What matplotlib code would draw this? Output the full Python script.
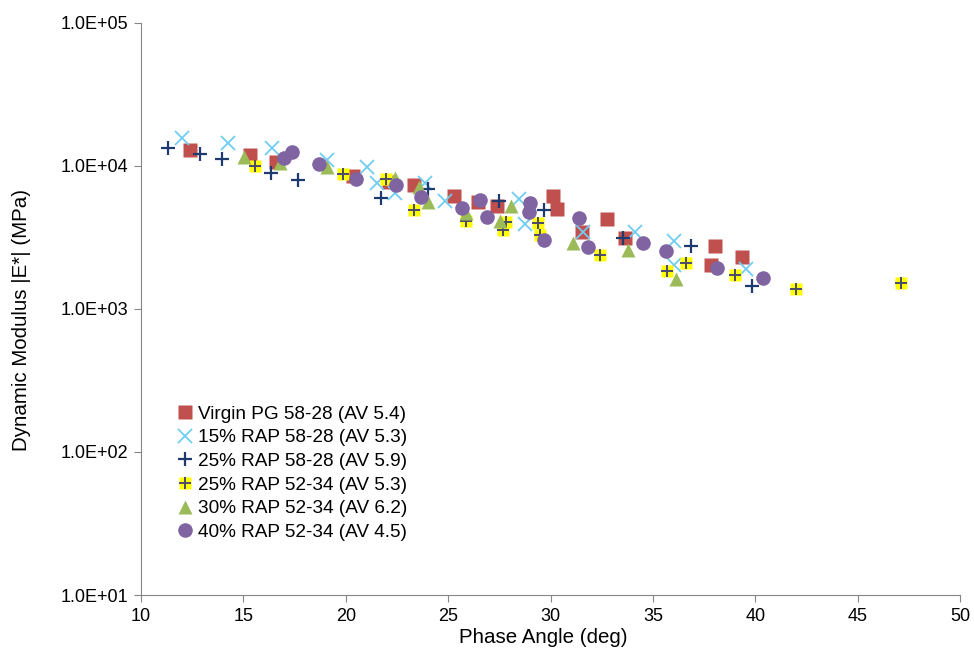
import matplotlib
matplotlib.use("Agg")
import matplotlib.pyplot as plt
from matplotlib.ticker import FixedLocator, FuncFormatter, NullLocator
from matplotlib.legend_handler import HandlerTuple
import numpy as np

plt.rcParams['font.family'] = ['Liberation Sans', 'DejaVu Sans']

# Virgin PG 58-28 (AV 5.4)
virgin_x = [12.39, 15.32, 16.59, 20.34, 22.10, 23.32, 25.27, 26.44, 27.40, 30.10,
            30.34, 31.56, 32.76, 33.66, 38.05, 37.85, 39.37]
virgin_y = [12940, 11940, 10670, 8510, 7730, 7360, 6170, 5600, 5250, 6170,
            5000, 3460, 4260, 3140, 2760, 2030, 2310]

# 15% RAP 58-28 (AV 5.3)
rap15_x = [12.0, 14.24, 16.39, 19.07, 21.02, 21.51, 22.39, 23.85, 24.83, 28.44,
           28.73, 31.61, 34.15, 36.05, 36.05, 39.56]
rap15_y = [15700, 14480, 13360, 11020, 9840, 7610, 6480, 7610, 5690, 5880,
           3930, 3460, 3460, 2990, 2030, 1900]

# 25% RAP 58-28 (AV 5.9)
rap25a_x = [11.32, 12.88, 13.95, 16.34, 17.66, 21.71, 24.0, 27.46, 29.66, 33.56, 36.88, 39.85]
rap25a_y = [13360, 12130, 11190, 8930, 7980, 5970, 6910, 5690, 4920, 3140, 2760, 1450]

# 25% RAP 52-34 (AV 5.3)
rap25b_x = [15.56, 19.85, 21.95, 23.32, 25.85, 27.66, 27.85, 29.41, 29.51, 32.44,
            35.71, 36.63, 39.02, 42.0, 47.12]
rap25b_y = [10000, 8790, 8110, 4920, 4120, 3570, 4060, 3990, 3290, 2390,
            1840, 2100, 1730, 1380, 1520]

# 30% RAP 52-34 (AV 6.2)
rap30_x = [15.02, 16.78, 19.07, 22.39, 23.56, 24.0, 25.85, 27.51, 28.05, 31.12, 33.80, 36.15]
rap30_y = [11560, 10500, 9840, 8250, 7130, 5600, 4690, 4120, 5250, 2890, 2590, 1620]

# 40% RAP 52-34 (AV 4.5)
rap40_x = [16.98, 17.37, 18.68, 20.49, 22.44, 23.66, 25.66, 26.54, 26.88, 29.02,
           28.93, 29.66, 31.37, 31.85, 34.54, 35.66, 38.15, 40.39]
rap40_y = [11370, 12530, 10330, 8110, 7360, 6070, 5090, 5780, 4400, 5510,
           4770, 3040, 4330, 2710, 2890, 2540, 1940, 1650]

labels = ["Virgin PG 58-28 (AV 5.4)", "15% RAP 58-28 (AV 5.3)", "25% RAP 58-28 (AV 5.9)",
          "25% RAP 52-34 (AV 5.3)", "30% RAP 52-34 (AV 6.2)", "40% RAP 52-34 (AV 4.5)"]

fig = plt.figure(figsize=(9.74, 6.55), dpi=100)
ax = fig.add_axes([0.1448, 0.0916, 0.8408, 0.8733])

h1, = ax.plot(virgin_x, virgin_y, ls='none', marker='s', ms=10, color='#C0504D', mec='none')
h2, = ax.plot(rap15_x, rap15_y, ls='none', marker='x', ms=9.5, mew=1.3, color='#6FCDF2')
h3, = ax.plot(rap25a_x, rap25a_y, ls='none', marker='+', ms=9.5, mew=1.6, color='#1F3A6E')
h4a, = ax.plot(rap25b_x, rap25b_y, ls='none', marker='s', ms=9, color='#FFFF00', mec='none')
h4b, = ax.plot(rap25b_x, rap25b_y, ls='none', marker='+', ms=8, mew=1.4, color='#4B4A6B')
h5, = ax.plot(rap30_x, rap30_y, ls='none', marker='^', ms=10, color='#9BBB59', mec='none')
h6, = ax.plot(rap40_x, rap40_y, ls='none', marker='o', ms=10.5, color='#8064A2', mec='none')

ax.set_yscale('log')
ax.set_xlim(10, 50)
ax.set_ylim(10, 1e5)
ax.set_xticks(np.arange(10, 51, 5))
ax.yaxis.set_major_locator(FixedLocator([10, 100, 1000, 10000, 100000]))
ax.yaxis.set_minor_locator(NullLocator())
ax.yaxis.set_major_formatter(FuncFormatter(lambda v, p: "1.0E+%02d" % int(round(np.log10(v)))))

for side in ['top', 'right']:
    ax.spines[side].set_visible(False)
for side in ['left', 'bottom']:
    ax.spines[side].set_color('#868686')
ax.tick_params(axis='both', direction='out', length=5, color='#868686',
               labelsize=13, labelcolor='#000000', pad=4)

ax.set_xlabel('Phase Angle (deg)', fontsize=14.8)
ax.set_ylabel('Dynamic Modulus |E*| (MPa)', fontsize=14.8)
ax.xaxis.set_label_coords(0.491, -0.058)
ax.yaxis.set_label_coords(-0.134, 0.481)

ax.legend([h1, h2, h3, (h4a, h4b), h5, h6], labels,
          handler_map={tuple: HandlerTuple(ndivide=1, pad=0)},
          loc='upper left', bbox_to_anchor=(0.035, 0.345), frameon=False,
          fontsize=13.7, handlelength=0.8, handletextpad=0.3, labelspacing=0.335,
          borderaxespad=0)

fig.savefig('out.png', dpi=100)
